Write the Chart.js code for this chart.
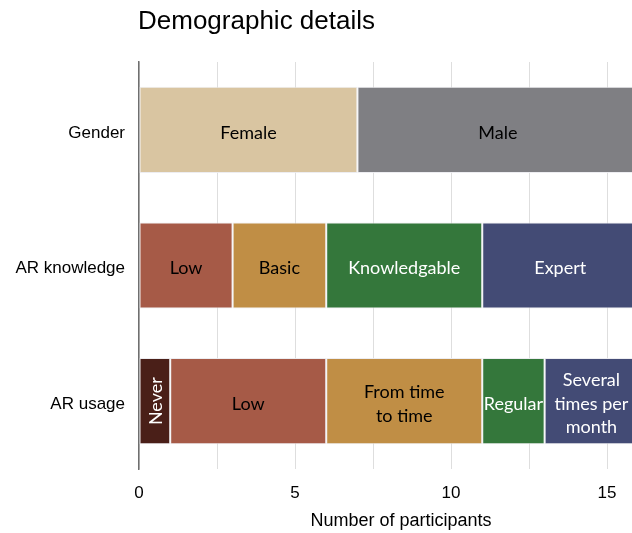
<!DOCTYPE html>
<html>
<head>
<meta charset="utf-8">
<script src="https://cdn.jsdelivr.net/npm/chart.js@4"></script>
<style>
html,body{margin:0;padding:0;background:#fff;}
#wrap{width:632px;height:533px;position:relative;}
</style>
</head>
<body>
<div id="wrap"><canvas id="c" width="632" height="533"></canvas></div>
<script>
const categories = ['Gender', 'AR knowledge', 'AR usage'];
const segmentLabels = ['Female', 'Male', 'Low', 'Basic', 'Knowledgable', 'Expert', 'Never', 'Low', 'From time to time', 'Regular', 'Several times per month'];
const segmentLines = [['Female'], ['Male'], ['Low'], ['Basic'], ['Knowledgable'], ['Expert'], ['Never'], ['Low'], ['From time', 'to time'], ['Regular'], ['Several', 'times per', 'month']];
const segmentValues = [7, 9, 3, 3, 5, 5, 1, 5, 5, 2, 3];
const segmentCategory = [0, 0, 1, 1, 1, 1, 2, 2, 2, 2, 2];
const segmentColors = ['#D9C5A1', '#7F7F83', '#A65A47', '#C08E45', '#34773B', '#434B75', '#4A1F18', '#A65A47', '#C08E45', '#34773B', '#434B75'];
const textColors = ['#000', '#000', '#000', '#000', '#fff', '#fff', '#fff', '#000', '#000', '#fff', '#fff'];
const rotated = [false, false, false, false, false, false, true, false, false, false, false];
const xTickValues = [0, 2.5, 5, 7.5, 10, 12.5, 15];
const xMax = 15.8;
const xAxisTitle = 'Number of participants';
const chartTitle = 'Demographic details';

const datasets = segmentLabels.map((lab, i) => ({
  label: lab,
  data: categories.map((c, ci) => ci === segmentCategory[i] ? segmentValues[i] : null),
  backgroundColor: segmentColors[i],
  borderColor: 'rgba(235,235,240,0.9)',
  borderWidth: 1,
  borderSkipped: false,
  barPercentage: 0.635,
  categoryPercentage: 1
}));

const barLabels = {
  id: 'barLabels',
  afterDatasetsDraw(chart) {
    const ctx = chart.ctx;
    const a = chart.chartArea;
    ctx.save();
    ctx.beginPath();
    ctx.rect(a.left, a.top, a.right - a.left, a.bottom - a.top);
    ctx.clip();
    ctx.font = '18px Lato, "Open Sans", sans-serif';
    ctx.textAlign = 'center';
    ctx.textBaseline = 'middle';
    chart.data.datasets.forEach((ds, i) => {
      const meta = chart.getDatasetMeta(i);
      const el = meta.data[segmentCategory[i]];
      if (!el) return;
      const cx = (el.x + el.base) / 2;
      const cy = el.y + 3;
      ctx.fillStyle = textColors[i];
      const lines = segmentLines[i];
      if (rotated[i]) {
        ctx.save();
        ctx.translate(cx + 1, el.y);
        ctx.rotate(-Math.PI / 2);
        ctx.fillText(lines[0], 0, 0);
        ctx.restore();
      } else {
        const lh = 23.5;
        lines.forEach((t, k) => {
          ctx.fillText(t, cx, cy + (k - (lines.length - 1) / 2) * lh);
        });
      }
    });
    ctx.restore();
  }
};

const titlePlugin = {
  id: 'texts',
  afterDraw(chart) {
    const ctx = chart.ctx;
    const a = chart.chartArea;
    ctx.save();
    ctx.font = '26px "Liberation Sans", Arial, sans-serif';
    ctx.fillStyle = '#000';
    ctx.textAlign = 'left';
    ctx.textBaseline = 'alphabetic';
    ctx.fillText(chartTitle, a.left - 1, 29);
    ctx.font = '18px "Liberation Sans", Arial, sans-serif';
    ctx.textAlign = 'center';
    ctx.textBaseline = 'middle';
    ctx.fillText(xAxisTitle, a.left + 262, 521);
    ctx.restore();
  }
};

new Chart(document.getElementById('c'), {
  type: 'bar',
  data: { labels: categories, datasets },
  options: {
    indexAxis: 'y',
    responsive: false,
    animation: false,
    layout: { padding: { top: 62, right: 0, bottom: 0, left: 0 } },
    plugins: { legend: { display: false }, tooltip: { enabled: false }, title: { display: false } },
    scales: {
      x: {
        stacked: true,
        min: 0,
        max: xMax,
        afterBuildTicks(scale) { scale.ticks = xTickValues.map(v => ({ value: v })); },
        afterFit(scale) { scale.height = 64; },
        grid: { color: '#dedede', lineWidth: 1, drawTicks: false },
        border: { display: false },
        ticks: {
          padding: 14,
          color: '#000',
          font: { family: '"Liberation Sans", Arial, sans-serif', size: 17 },
          maxRotation: 0,
          autoSkip: false,
          callback: (v) => (v % 5 === 0 ? String(v) : '')
        },
        title: { display: false }
      },
      y: {
        stacked: true,
        afterFit(scale) { scale.width = 139; },
        grid: { display: false, drawTicks: false },
        border: { display: true, color: '#6f6f6f', width: 1.5 },
        ticks: {
          padding: 14,
          labelOffset: 3,
          color: '#000',
          font: { family: '"Liberation Sans", Arial, sans-serif', size: 17 }
        }
      }
    }
  },
  plugins: [barLabels, titlePlugin]
});
</script>
</body>
</html>
